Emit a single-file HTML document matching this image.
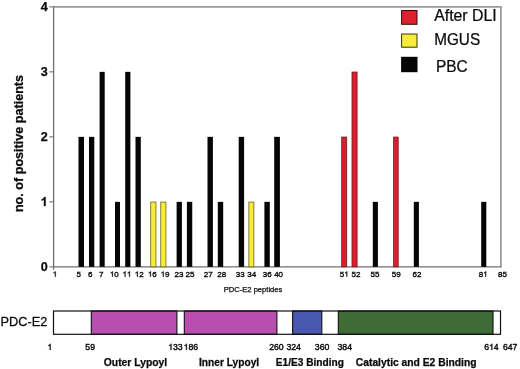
<!DOCTYPE html>
<html><head><meta charset="utf-8"><title>PDC-E2</title>
<style>
html,body{margin:0;padding:0;background:#fff;}
body{width:520px;height:369px;overflow:hidden;font-family:"Liberation Sans",sans-serif;}
svg{display:block;position:absolute;left:0;top:0;will-change:transform;}
text{font-family:"Liberation Sans",sans-serif;fill:#0a0a0a;stroke:#0a0a0a;stroke-width:0.25px;}
.b{font-weight:bold;}
</style></head><body>
<svg width="520" height="369" viewBox="0 0 520 369">
<rect x="0" y="0" width="520" height="369" fill="#ffffff"/>
<path d="M53.6 6.85 H500.9 V266.85" fill="none" stroke="#9c9c9c" stroke-width="1.8"/>
<path d="M53.6 6.35 V269.65 M53.6 266.85 H501.6" fill="none" stroke="#707070" stroke-width="1.3"/>
<line x1="49.4" y1="266.85" x2="53.6" y2="266.85" stroke="#707070" stroke-width="1.1"/>
<text class="b" transform="translate(40.69,271.05) scale(1.0,1)" font-size="12.6" text-anchor="start" style="stroke-width:0.25px">0</text>
<line x1="49.4" y1="201.85" x2="53.6" y2="201.85" stroke="#707070" stroke-width="1.1"/>
<path transform="translate(40.69,206.05) scale(0.01260,-0.01260)" d="M393 0H256V517Q181 447 79 413V537Q133 555 196 604Q259 653 282 719H393Z" fill="#0a0a0a" stroke="#0a0a0a" stroke-width="20"/>
<line x1="49.4" y1="136.85" x2="53.6" y2="136.85" stroke="#707070" stroke-width="1.1"/>
<text class="b" transform="translate(40.69,141.05) scale(1.0,1)" font-size="12.6" text-anchor="start" style="stroke-width:0.25px">2</text>
<line x1="49.4" y1="71.85" x2="53.6" y2="71.85" stroke="#707070" stroke-width="1.1"/>
<text class="b" transform="translate(40.69,76.05) scale(1.0,1)" font-size="12.6" text-anchor="start" style="stroke-width:0.25px">3</text>
<line x1="49.4" y1="6.85" x2="53.6" y2="6.85" stroke="#707070" stroke-width="1.1"/>
<text class="b" transform="translate(40.69,11.05) scale(1.0,1)" font-size="12.6" text-anchor="start" style="stroke-width:0.25px">4</text>
<rect x="78.50" y="136.85" width="5.50" height="130.00" fill="#050505"/>
<rect x="89.00" y="136.85" width="5.30" height="130.00" fill="#050505"/>
<rect x="99.60" y="71.85" width="5.10" height="195.00" fill="#050505"/>
<rect x="115.00" y="201.85" width="5.00" height="65.00" fill="#050505"/>
<rect x="125.20" y="71.85" width="5.20" height="195.00" fill="#050505"/>
<rect x="135.50" y="136.85" width="5.30" height="130.00" fill="#050505"/>
<rect x="150.75" y="202.05" width="5.20" height="64.80" fill="#f7ec3a" stroke="#6e6418" stroke-width="0.8"/>
<rect x="160.75" y="202.05" width="5.20" height="64.80" fill="#f7ec3a" stroke="#6e6418" stroke-width="0.8"/>
<rect x="176.60" y="201.85" width="5.30" height="65.00" fill="#050505"/>
<rect x="186.90" y="201.85" width="5.35" height="65.00" fill="#050505"/>
<rect x="207.50" y="136.85" width="5.40" height="130.00" fill="#050505"/>
<rect x="217.80" y="201.85" width="5.40" height="65.00" fill="#050505"/>
<rect x="238.70" y="136.85" width="5.40" height="130.00" fill="#050505"/>
<rect x="248.85" y="202.05" width="5.00" height="64.80" fill="#f7ec3a" stroke="#6e6418" stroke-width="0.8"/>
<rect x="264.40" y="201.85" width="5.40" height="65.00" fill="#050505"/>
<rect x="274.20" y="136.85" width="5.70" height="130.00" fill="#050505"/>
<rect x="341.70" y="137.05" width="5.00" height="129.80" fill="#d82030" stroke="#7a1418" stroke-width="0.8"/>
<rect x="352.00" y="72.05" width="5.10" height="194.80" fill="#d82030" stroke="#7a1418" stroke-width="0.8"/>
<rect x="372.80" y="201.85" width="5.10" height="65.00" fill="#050505"/>
<rect x="393.60" y="137.05" width="4.60" height="129.80" fill="#d82030" stroke="#7a1418" stroke-width="0.8"/>
<rect x="413.80" y="201.85" width="5.10" height="65.00" fill="#050505"/>
<rect x="481.20" y="201.85" width="5.10" height="65.00" fill="#050505"/>
<path transform="translate(52.68,276.70) scale(0.00800,-0.00736)" d="M373 0H285V560Q253 530 202 500Q150 470 109 455V540Q183 575 238 624Q293 673 316 719H373Z" fill="#0a0a0a" stroke="#0a0a0a" stroke-width="44"/>
<text transform="translate(76.58,276.70) scale(1.0,1)" font-size="8" text-anchor="start" style="stroke-width:0.35px">5</text>
<text transform="translate(87.88,276.70) scale(1.0,1)" font-size="8" text-anchor="start" style="stroke-width:0.35px">6</text>
<text transform="translate(98.98,276.70) scale(1.0,1)" font-size="8" text-anchor="start" style="stroke-width:0.35px">7</text>
<path transform="translate(109.85,276.70) scale(0.00800,-0.00736)" d="M373 0H285V560Q253 530 202 500Q150 470 109 455V540Q183 575 238 624Q293 673 316 719H373Z" fill="#0a0a0a" stroke="#0a0a0a" stroke-width="44"/>
<text transform="translate(114.30,276.70) scale(1.0,1)" font-size="8" text-anchor="start" style="stroke-width:0.35px">0</text>
<path transform="translate(122.45,276.70) scale(0.00800,-0.00736)" d="M373 0H285V560Q253 530 202 500Q150 470 109 455V540Q183 575 238 624Q293 673 316 719H373Z" fill="#0a0a0a" stroke="#0a0a0a" stroke-width="44"/>
<path transform="translate(126.90,276.70) scale(0.00800,-0.00736)" d="M373 0H285V560Q253 530 202 500Q150 470 109 455V540Q183 575 238 624Q293 673 316 719H373Z" fill="#0a0a0a" stroke="#0a0a0a" stroke-width="44"/>
<path transform="translate(134.70,276.70) scale(0.00800,-0.00736)" d="M373 0H285V560Q253 530 202 500Q150 470 109 455V540Q183 575 238 624Q293 673 316 719H373Z" fill="#0a0a0a" stroke="#0a0a0a" stroke-width="44"/>
<text transform="translate(139.15,276.70) scale(1.0,1)" font-size="8" text-anchor="start" style="stroke-width:0.35px">2</text>
<path transform="translate(147.85,276.70) scale(0.00800,-0.00736)" d="M373 0H285V560Q253 530 202 500Q150 470 109 455V540Q183 575 238 624Q293 673 316 719H373Z" fill="#0a0a0a" stroke="#0a0a0a" stroke-width="44"/>
<text transform="translate(152.30,276.70) scale(1.0,1)" font-size="8" text-anchor="start" style="stroke-width:0.35px">6</text>
<path transform="translate(160.65,276.70) scale(0.00800,-0.00736)" d="M373 0H285V560Q253 530 202 500Q150 470 109 455V540Q183 575 238 624Q293 673 316 719H373Z" fill="#0a0a0a" stroke="#0a0a0a" stroke-width="44"/>
<text transform="translate(165.10,276.70) scale(1.0,1)" font-size="8" text-anchor="start" style="stroke-width:0.35px">9</text>
<text transform="translate(174.45,276.70) scale(1.0,1)" font-size="8" text-anchor="start" style="stroke-width:0.35px">23</text>
<text transform="translate(185.45,276.70) scale(1.0,1)" font-size="8" text-anchor="start" style="stroke-width:0.35px">25</text>
<text transform="translate(203.85,276.70) scale(1.0,1)" font-size="8" text-anchor="start" style="stroke-width:0.35px">27</text>
<text transform="translate(217.25,276.70) scale(1.0,1)" font-size="8" text-anchor="start" style="stroke-width:0.35px">28</text>
<text transform="translate(235.75,276.70) scale(1.0,1)" font-size="8" text-anchor="start" style="stroke-width:0.35px">33</text>
<text transform="translate(247.25,276.70) scale(1.0,1)" font-size="8" text-anchor="start" style="stroke-width:0.35px">34</text>
<text transform="translate(262.75,276.70) scale(1.0,1)" font-size="8" text-anchor="start" style="stroke-width:0.35px">36</text>
<text transform="translate(274.15,276.70) scale(1.0,1)" font-size="8" text-anchor="start" style="stroke-width:0.35px">40</text>
<text transform="translate(339.75,276.70) scale(1.0,1)" font-size="8" text-anchor="start" style="stroke-width:0.35px">5</text>
<path transform="translate(344.20,276.70) scale(0.00800,-0.00736)" d="M373 0H285V560Q253 530 202 500Q150 470 109 455V540Q183 575 238 624Q293 673 316 719H373Z" fill="#0a0a0a" stroke="#0a0a0a" stroke-width="44"/>
<text transform="translate(351.55,276.70) scale(1.0,1)" font-size="8" text-anchor="start" style="stroke-width:0.35px">52</text>
<text transform="translate(370.45,276.70) scale(1.0,1)" font-size="8" text-anchor="start" style="stroke-width:0.35px">55</text>
<text transform="translate(391.85,276.70) scale(1.0,1)" font-size="8" text-anchor="start" style="stroke-width:0.35px">59</text>
<text transform="translate(412.55,276.70) scale(1.0,1)" font-size="8" text-anchor="start" style="stroke-width:0.35px">62</text>
<text transform="translate(478.65,276.70) scale(1.0,1)" font-size="8" text-anchor="start" style="stroke-width:0.35px">8</text>
<path transform="translate(483.10,276.70) scale(0.00800,-0.00736)" d="M373 0H285V560Q253 530 202 500Q150 470 109 455V540Q183 575 238 624Q293 673 316 719H373Z" fill="#0a0a0a" stroke="#0a0a0a" stroke-width="44"/>
<text transform="translate(498.05,276.70) scale(1.0,1)" font-size="8" text-anchor="start" style="stroke-width:0.35px">85</text>
<text transform="translate(253.00,292.30) scale(1.0,1)" font-size="7.6" text-anchor="middle">PDC-E2 peptides</text>
<text class="b" transform="translate(23.3,143.5) rotate(-90)" font-size="12.6" text-anchor="middle">no. of positive patients</text>
<rect x="401.6" y="10.5" width="15.4" height="13.8" fill="#e01f2d" stroke="#3a0c0c" stroke-width="1"/>
<rect x="401.6" y="34" width="15.4" height="13.2" fill="#f7ec3a" stroke="#3a350c" stroke-width="1"/>
<rect x="401.1" y="56.8" width="16.4" height="15.4" fill="#050505"/>
<text transform="translate(434.20,21.10) scale(0.99,1)" font-size="16" text-anchor="start">After DLI</text>
<text transform="translate(434.20,44.60) scale(0.957,1)" font-size="16" text-anchor="start">MGUS</text>
<text transform="translate(436.00,71.60) scale(0.967,1)" font-size="16" text-anchor="start">PBC</text>
<rect x="53.5" y="311" width="447" height="23.3" fill="#fff"/>
<rect x="91.3" y="311" width="85.6" height="23.3" fill="#b84eb0" stroke="#111" stroke-width="1.1"/>
<rect x="184.3" y="311" width="92.6" height="23.3" fill="#b84eb0" stroke="#111" stroke-width="1.1"/>
<rect x="292.6" y="311" width="29.2" height="23.3" fill="#4959b0" stroke="#111" stroke-width="1.1"/>
<rect x="338.3" y="311" width="154.7" height="23.3" fill="#3f6b35" stroke="#111" stroke-width="1.1"/>
<rect x="53.5" y="311" width="447" height="23.3" fill="none" stroke="#111" stroke-width="1.2"/>
<text transform="translate(0.40,326.30) scale(0.985,1)" font-size="13" text-anchor="start">PDC-E2</text>
<path transform="translate(47.28,349.90) scale(0.00870,-0.00844)" d="M373 0H285V560Q253 530 202 500Q150 470 109 455V540Q183 575 238 624Q293 673 316 719H373Z" fill="#0a0a0a" stroke="#0a0a0a" stroke-width="46"/>
<text transform="translate(85.36,349.90) scale(1.0,1)" font-size="8.7" text-anchor="start" style="stroke-width:0.4px">59</text>
<path transform="translate(168.14,349.90) scale(0.00870,-0.00844)" d="M373 0H285V560Q253 530 202 500Q150 470 109 455V540Q183 575 238 624Q293 673 316 719H373Z" fill="#0a0a0a" stroke="#0a0a0a" stroke-width="46"/>
<text transform="translate(172.98,349.90) scale(1.0,1)" font-size="8.7" text-anchor="start" style="stroke-width:0.4px">33</text>
<path transform="translate(183.54,349.90) scale(0.00870,-0.00844)" d="M373 0H285V560Q253 530 202 500Q150 470 109 455V540Q183 575 238 624Q293 673 316 719H373Z" fill="#0a0a0a" stroke="#0a0a0a" stroke-width="46"/>
<text transform="translate(188.38,349.90) scale(1.0,1)" font-size="8.7" text-anchor="start" style="stroke-width:0.4px">86</text>
<text transform="translate(269.14,349.90) scale(1.0,1)" font-size="8.7" text-anchor="start" style="stroke-width:0.4px">260</text>
<text transform="translate(286.44,349.90) scale(1.0,1)" font-size="8.7" text-anchor="start" style="stroke-width:0.4px">324</text>
<text transform="translate(314.84,349.90) scale(1.0,1)" font-size="8.7" text-anchor="start" style="stroke-width:0.4px">360</text>
<text transform="translate(337.54,349.90) scale(1.0,1)" font-size="8.7" text-anchor="start" style="stroke-width:0.4px">384</text>
<text transform="translate(484.14,349.90) scale(1.0,1)" font-size="8.7" text-anchor="start" style="stroke-width:0.4px">6</text>
<path transform="translate(488.98,349.90) scale(0.00870,-0.00844)" d="M373 0H285V560Q253 530 202 500Q150 470 109 455V540Q183 575 238 624Q293 673 316 719H373Z" fill="#0a0a0a" stroke="#0a0a0a" stroke-width="46"/>
<text transform="translate(493.82,349.90) scale(1.0,1)" font-size="8.7" text-anchor="start" style="stroke-width:0.4px">4</text>
<text transform="translate(502.94,349.90) scale(1.0,1)" font-size="8.7" text-anchor="start" style="stroke-width:0.4px">647</text>
<text class="b" transform="translate(103.80,365.70) scale(1.0,1)" font-size="10.35" text-anchor="start">Outer Lypoyl</text>
<text class="b" transform="translate(199.00,365.70) scale(0.985,1)" font-size="10.35" text-anchor="start">Inner Lypoyl</text>
<text class="b" transform="translate(275.80,365.70) scale(0.98,1)" font-size="10.35" text-anchor="start">E1/E3 Binding</text>
<text class="b" transform="translate(355.80,365.70) scale(1.0,1)" font-size="10.3" text-anchor="start">Catalytic and E2 Binding</text>
</svg>
</body></html>
